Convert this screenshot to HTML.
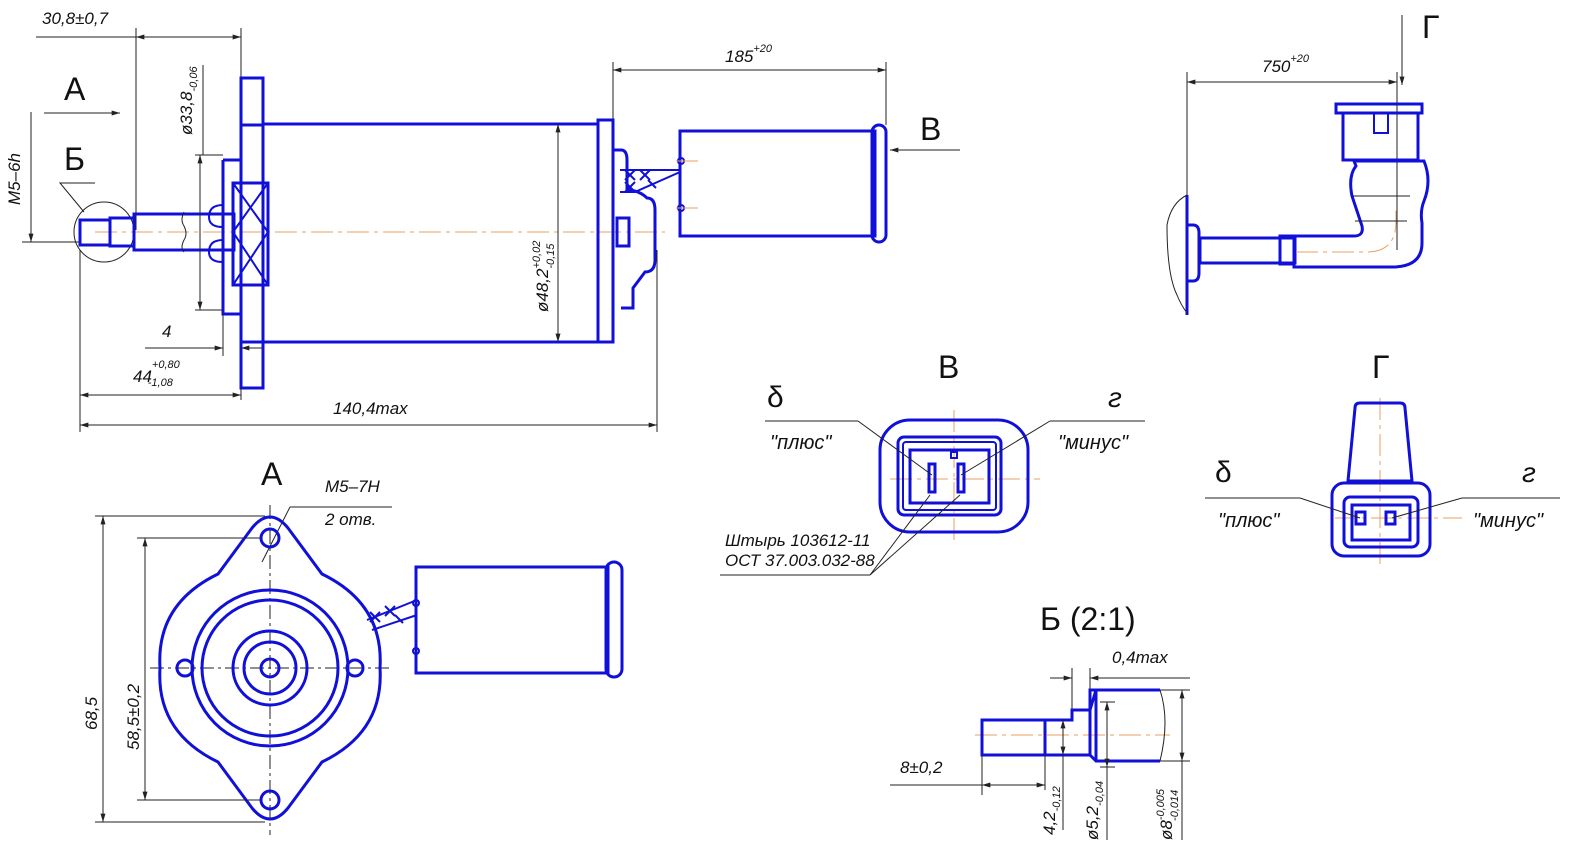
<!DOCTYPE html>
<html><head><meta charset="utf-8"><style>
html,body{margin:0;padding:0;background:#fff;}
svg{display:block}
text{font-family:"Liberation Sans",sans-serif;fill:#111;font-style:italic}
.b{stroke:#1010d8;stroke-width:3;fill:none}
.bt{stroke:#1010d8;stroke-width:2;fill:none}
.k{stroke:#222;stroke-width:1;fill:none}
.c{stroke:#e8a060;stroke-width:1;fill:none;stroke-dasharray:22 5 4 5}
.big{font-style:normal;font-size:32px}
.s{font-size:17px}
.xs{font-size:11px}
</style></head><body>
<svg width="1586" height="863" viewBox="0 0 1586 863" xmlns="http://www.w3.org/2000/svg">
<defs><marker id="a" viewBox="0 0 10 6" refX="10" refY="3" markerWidth="12" markerHeight="5" orient="auto-start-reverse"><path d="M0,0L10,3L0,6z" fill="#222"/></marker></defs>

<!-- MAIN VIEW -->
<line class="c" x1="95" y1="232" x2="665" y2="232"/>
<!-- 30,8 dim -->
<text class="s" x="42" y="24">30,8±0,7</text>
<line class="k" x1="36" y1="37" x2="241" y2="37"/>
<line class="k" x1="136" y1="37" x2="241" y2="37" marker-start="url(#a)" marker-end="url(#a)"/>
<line class="k" x1="136" y1="28" x2="136" y2="230"/>
<line class="k" x1="241" y1="28" x2="241" y2="78"/>
<text class="big" x="64" y="100">А</text>
<line class="k" x1="44" y1="113" x2="120" y2="113" marker-end="url(#a)"/>
<text class="big" x="64" y="170">Б</text>
<polyline class="k" points="95,183 60,183 84,212"/>
<circle class="k" cx="104" cy="232" r="30"/>
<text class="s" transform="translate(20,205) rotate(-90)">М5–6h</text>
<line class="k" x1="31" y1="112" x2="31" y2="242" marker-end="url(#a)"/>
<line class="k" x1="22" y1="242" x2="80" y2="242"/>
<!-- shaft -->
<rect class="b" x="80" y="220" width="30" height="25"/>
<rect class="b" x="110" y="218" width="24" height="28"/>
<rect class="b" x="134" y="214" width="100" height="36"/>
<path class="k" d="M184,212 q-4,8 0,14 q4,8 0,14 q-4,8 0,12"/>
<!-- flange & bearings -->
<rect class="b" x="241" y="78" width="22" height="310"/>
<line class="b" x1="241" y1="125" x2="263" y2="125"/><line class="b" x1="241" y1="342" x2="263" y2="342"/>
<path class="b" d="M223,160 h18 M223,160 v70 M223,230 v84 h18"/>
<rect class="b" x="233" y="183" width="35" height="102"/>
<path class="bt" d="M233,183 L268,232 M268,183 L233,232 M233,232 L268,285 M268,232 L233,285"/>
<path class="bt" d="M223,205 q-14,0 -14,12 q0,10 14,10 M223,240 q-14,0 -14,12 q0,10 14,10"/>
<line class="k" x1="200" y1="155" x2="200" y2="310" marker-start="url(#a)" marker-end="url(#a)"/>
<line class="k" x1="195" y1="155" x2="223" y2="155"/><line class="k" x1="195" y1="310" x2="223" y2="310"/>
<line class="k" x1="203" y1="65" x2="203" y2="155"/>
<text class="s" transform="translate(192,135) rotate(-90)">ø33,8<tspan class="xs" dy="5">-0,06</tspan></text>
<!-- body -->
<path class="b" d="M263,124 H598 M263,342 H598"/>
<rect class="b" x="598" y="120" width="15" height="222"/>
<line class="k" x1="558" y1="124" x2="558" y2="342" marker-start="url(#a)" marker-end="url(#a)"/>
<text class="s" transform="translate(548,312) rotate(-90)">ø48,2<tspan class="xs" dy="-8">+0,02</tspan><tspan class="xs" dx="-28" dy="14">-0,15</tspan></text>
<!-- connector -->
<path class="b" d="M613,150 h8 q6,0 6,10 v30 q12,0 20,8 q8,0 8,12 v50 q0,12 -10,12 l-12,16 v20 h-12"/>
<rect class="b" x="617" y="218" width="12" height="28"/>
<path class="bt" d="M620,170 h60 M620,192 h15 l45,-20"/>
<path class="bt" d="M625,170 l10,10 m0,-10 l-10,10 M640,170 l10,10 m0,-10 l-10,10 M625,182 l10,10 m0,-10 l-10,10 M648,180 l8,8"/>
<line class="k" x1="657" y1="250" x2="657" y2="432"/>
<!-- plug -->
<line class="k" x1="613" y1="62" x2="613" y2="120"/>
<line class="k" x1="886" y1="62" x2="886" y2="125"/>
<line class="k" x1="613" y1="70" x2="886" y2="70" marker-start="url(#a)" marker-end="url(#a)"/>
<text class="s" x="725" y="62">185<tspan class="xs" dy="-10">+20</tspan></text>
<rect class="b" x="680" y="131" width="195" height="105"/>
<rect class="b" x="872" y="125" width="14" height="117" rx="7"/>
<circle class="bt" cx="681" cy="161" r="3"/><circle class="bt" cx="681" cy="208" r="3"/>
<line class="c" x1="676" y1="161" x2="700" y2="161" stroke-dasharray="6 4"/><line class="c" x1="676" y1="208" x2="700" y2="208" stroke-dasharray="6 4"/>
<text class="big" x="920" y="140">В</text>
<line class="k" x1="960" y1="150" x2="890" y2="150" marker-end="url(#a)"/>
<!-- bottom dims -->
<text class="s" x="162" y="337">4</text>
<line class="k" x1="145" y1="348" x2="223" y2="348" marker-end="url(#a)"/>
<line class="k" x1="262" y1="348" x2="241" y2="348" marker-end="url(#a)"/>
<line class="k" x1="223" y1="314" x2="223" y2="356"/>
<text class="s" x="133" y="382">44<tspan class="xs" dy="-14">+0,80</tspan><tspan class="xs" dx="-32" dy="18">-1,08</tspan></text>
<line class="k" x1="80" y1="250" x2="80" y2="432"/>
<line class="k" x1="80" y1="395" x2="241" y2="395" marker-start="url(#a)" marker-end="url(#a)"/>
<line class="k" x1="241" y1="388" x2="241" y2="400"/>
<text class="s" x="333" y="414">140,4max</text>
<line class="k" x1="80" y1="425" x2="657" y2="425" marker-start="url(#a)" marker-end="url(#a)"/>

<!-- TOP RIGHT VIEW -->
<text class="big" x="1422" y="38">Г</text>
<line class="k" x1="1402" y1="15" x2="1402" y2="85" marker-end="url(#a)"/>
<text class="s" x="1262" y="72">750<tspan class="xs" dy="-10">+20</tspan></text>
<line class="k" x1="1187" y1="72" x2="1187" y2="195"/>
<line class="k" x1="1397" y1="72" x2="1397" y2="250"/>
<line class="k" x1="1187" y1="82" x2="1397" y2="82" marker-start="url(#a)" marker-end="url(#a)"/>
<line class="b" x1="1187" y1="195" x2="1187" y2="315"/>
<path class="k" d="M1187,195 q-16,8 -20,30 q0,50 10,70 q4,10 10,18"/>
<path class="b" d="M1187,225 h6 q6,0 6,8 v40 q0,8 -6,8 h-6"/>
<rect class="b" x="1200" y="238" width="95" height="25"/>
<rect class="b" x="1280" y="236" width="14" height="28"/>
<path class="b" d="M1294,236 h60 q10,0 8,-10 l-10,-30 q-4,-20 4,-30 l-2,-5 h70 q8,20 0,40 q-4,10 -2,22 v20 q0,24 -30,24 h-98 z"/>
<rect class="b" x="1343" y="113" width="75" height="47"/>
<rect class="b" x="1336" y="104" width="86" height="9"/>
<rect class="bt" x="1374" y="113" width="14" height="20"/>
<path class="c" d="M1296,252 h70 q30,0 30,-30 v-12" stroke-dasharray="none"/>
<path class="k" d="M1352,196 h58 M1355,221 h52"/>

<!-- VIEW A -->
<text class="big" x="261" y="485">А</text>
<text class="s" x="325" y="492">М5–7Н</text>
<text class="s" x="325" y="525">2 отв.</text>
<line class="k" x1="290" y1="507" x2="392" y2="507"/>
<line class="k" x1="290" y1="507" x2="262" y2="562"/>
<line class="k" x1="270" y1="505" x2="270" y2="835" stroke="#e8a060" stroke-dasharray="14 4 3 4"/>
<line class="k" x1="150" y1="668" x2="390" y2="668" stroke="#e8a060" stroke-dasharray="14 4 3 4"/>
<path class="b" d="M252,528 q18,-22 36,0 l34,46 q62,30 58,94 q4,64 -58,94 l-34,46 q-18,22 -36,0 l-34,-46 q-62,-30 -58,-94 q-4,-64 58,-94 z"/>
<circle class="b" cx="270" cy="538" r="9"/><circle class="b" cx="270" cy="800" r="9"/>
<circle class="b" cx="185" cy="668" r="8"/><circle class="b" cx="355" cy="668" r="8"/>
<circle class="b" cx="270" cy="668" r="78"/><circle class="b" cx="270" cy="668" r="68"/>
<circle class="b" cx="270" cy="668" r="37"/><circle class="b" cx="270" cy="668" r="26"/>
<circle class="b" cx="270" cy="668" r="9"/>
<line class="k" x1="95" y1="516" x2="265" y2="516"/><line class="k" x1="95" y1="822" x2="265" y2="822"/>
<line class="k" x1="103" y1="516" x2="103" y2="822" marker-start="url(#a)" marker-end="url(#a)"/>
<line class="k" x1="137" y1="538" x2="260" y2="538"/><line class="k" x1="137" y1="800" x2="260" y2="800"/>
<line class="k" x1="145" y1="538" x2="145" y2="800" marker-start="url(#a)" marker-end="url(#a)"/>
<text class="s" transform="translate(97,730) rotate(-90)">68,5</text>
<text class="s" transform="translate(139,750) rotate(-90)">58,5±0,2</text>
<rect class="b" x="416" y="567" width="192" height="106"/>
<rect class="b" x="606" y="562" width="16" height="115" rx="8"/>
<path class="bt" d="M367,620 l50,-20 M372,630 l45,-15"/>
<path class="bt" d="M370,612 l10,10 m0,-10 l-10,10 M385,606 l10,10 m0,-10 l-10,10 M395,615 l8,8"/>
<circle class="bt" cx="416" cy="603" r="3"/><circle class="bt" cx="416" cy="651" r="3"/>

<!-- VIEW В -->
<text class="big" x="938" y="378">В</text>
<line class="c" x1="954" y1="410" x2="954" y2="545" stroke-dasharray="14 4 3 4"/>
<line class="c" x1="890" y1="479" x2="1040" y2="479" stroke-dasharray="14 4 3 4"/>
<rect class="b" x="880" y="420" width="148" height="112" rx="30"/>
<rect class="b" x="898" y="437" width="103" height="78" rx="6"/>
<rect class="bt" x="903" y="442" width="93" height="68" rx="3"/>
<rect class="b" x="910" y="450" width="79" height="53"/>
<rect class="bt" x="951" y="452" width="6" height="6"/>
<rect class="b" x="929" y="464" width="6" height="28"/><rect class="b" x="958" y="464" width="6" height="28"/>
<text class="big" x="767" y="407" style="font-size:30px">δ</text>
<text class="big" x="1108" y="407" style="font-style:italic;font-size:28px">г</text>
<line class="k" x1="765" y1="421" x2="858" y2="421"/><line class="k" x1="858" y1="421" x2="932" y2="475"/>
<line class="k" x1="1050" y1="421" x2="1145" y2="421"/><line class="k" x1="1050" y1="421" x2="961" y2="475"/>
<text class="s" x="770" y="449" style="font-size:20px">"плюс"</text>
<text class="s" x="1058" y="449" style="font-size:20px">"минус"</text>
<text class="s" x="725" y="546">Штырь 103612-11</text>
<text class="s" x="725" y="566">ОСТ 37.003.032-88</text>
<line class="k" x1="720" y1="575" x2="870" y2="575"/>
<line class="k" x1="870" y1="575" x2="930" y2="495"/><line class="k" x1="870" y1="575" x2="960" y2="495"/>

<!-- VIEW Г -->
<text class="big" x="1372" y="378">Г</text>
<line class="c" x1="1380" y1="398" x2="1380" y2="568" stroke-dasharray="14 4 3 4"/>
<line class="c" x1="1335" y1="518" x2="1462" y2="518" stroke-dasharray="14 4 3 4"/>
<path class="b" d="M1360,403 h40 q5,0 5,5 l7,73 h-64 l7,-73 q0,-5 5,-5z"/>
<rect class="b" x="1332" y="483" width="98" height="73" rx="12"/>
<rect class="b" x="1344" y="497" width="74" height="50" rx="6"/>
<rect class="b" x="1352" y="505" width="58" height="35"/>
<rect class="b" x="1356" y="512" width="9" height="12" fill="#1010d8"/>
<rect class="b" x="1386" y="512" width="9" height="12" fill="#1010d8"/>
<text class="big" x="1215" y="482" style="font-size:30px">δ</text>
<text class="big" x="1522" y="482" style="font-style:italic;font-size:28px">г</text>
<line class="k" x1="1205" y1="498" x2="1300" y2="498"/><line class="k" x1="1300" y1="498" x2="1360" y2="518"/>
<line class="k" x1="1462" y1="498" x2="1560" y2="498"/><line class="k" x1="1462" y1="498" x2="1392" y2="518"/>
<text class="s" x="1218" y="527" style="font-size:20px">"плюс"</text>
<text class="s" x="1473" y="527" style="font-size:20px">"минус"</text>

<!-- VIEW Б 2:1 -->
<text class="big" x="1040" y="630">Б (2:1)</text>
<text class="s" x="1112" y="663">0,4max</text>
<line class="k" x1="1062" y1="678" x2="1072" y2="678" marker-end="url(#a)"/>
<line class="k" x1="1100" y1="678" x2="1090" y2="678" marker-end="url(#a)"/>
<line class="k" x1="1050" y1="678" x2="1072" y2="678"/><line class="k" x1="1090" y1="678" x2="1190" y2="678"/>
<line class="k" x1="1072" y1="668" x2="1072" y2="712"/><line class="k" x1="1090" y1="668" x2="1090" y2="690"/>
<line class="c" x1="975" y1="735" x2="1170" y2="735" stroke-dasharray="14 5"/>
<path class="b" d="M982,720 h63 v35 h-63 z"/>
<path class="b" d="M1045,720 h27 v-10 h18 M1045,755 h45 v-65 h70 M1090,755 l6,6 h64 M1090,710 l6,-20"/>
<line class="b" x1="1096" y1="690" x2="1096" y2="761"/>
<path class="k" d="M1160,690 q10,30 0,71"/>
<line class="k" x1="1100" y1="702" x2="1115" y2="702"/><line class="k" x1="1100" y1="767" x2="1115" y2="767"/>
<line class="k" x1="1107" y1="702" x2="1107" y2="767" marker-start="url(#a)" marker-end="url(#a)"/>
<line class="k" x1="1063" y1="720" x2="1063" y2="755" marker-start="url(#a)" marker-end="url(#a)"/>
<line class="k" x1="1063" y1="755" x2="1063" y2="830"/>
<line class="k" x1="1107" y1="767" x2="1107" y2="840"/>
<line class="k" x1="1160" y1="690" x2="1190" y2="690"/><line class="k" x1="1160" y1="761" x2="1190" y2="761"/>
<line class="k" x1="1182" y1="690" x2="1182" y2="761" marker-start="url(#a)" marker-end="url(#a)"/>
<line class="k" x1="1182" y1="761" x2="1182" y2="840"/>
<text class="s" x="900" y="773">8±0,2</text>
<line class="k" x1="890" y1="785" x2="1045" y2="785"/>
<line class="k" x1="982" y1="785" x2="1045" y2="785" marker-start="url(#a)" marker-end="url(#a)"/>
<line class="k" x1="982" y1="755" x2="982" y2="795"/><line class="k" x1="1045" y1="755" x2="1045" y2="790"/>
<text class="s" transform="translate(1055,835) rotate(-90)">4,2<tspan class="xs" dy="5">-0,12</tspan></text>
<text class="s" transform="translate(1098,840) rotate(-90)">ø5,2<tspan class="xs" dy="5">-0,04</tspan></text>
<text class="s" transform="translate(1172,840) rotate(-90)">ø8<tspan class="xs" dy="-8">-0,005</tspan><tspan class="xs" dx="-32" dy="14">-0,014</tspan></text>
</svg>
</body></html>
